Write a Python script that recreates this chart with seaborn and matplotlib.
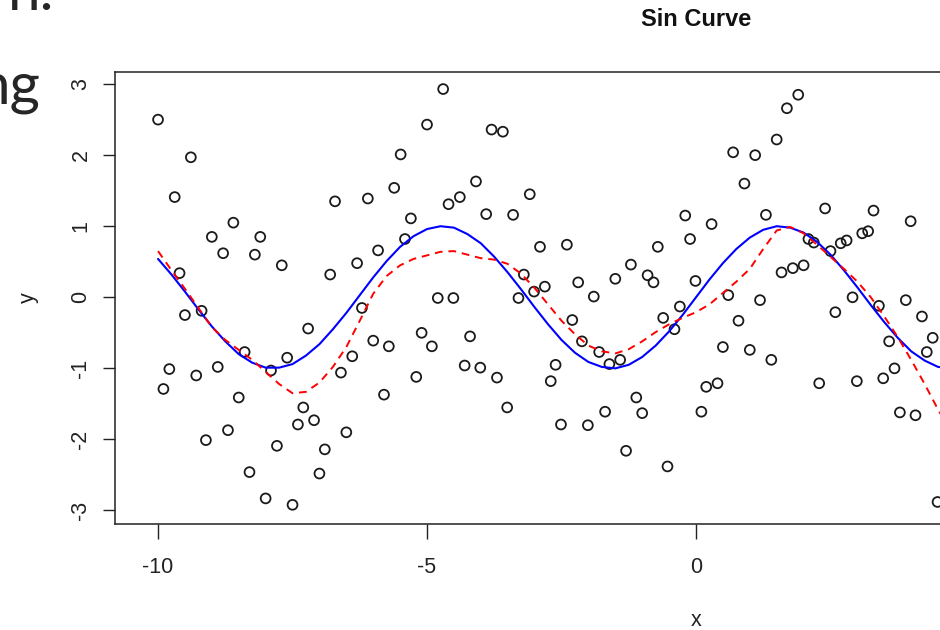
import matplotlib
matplotlib.use("Agg")
import matplotlib.pyplot as plt
import seaborn as sns

sns.set_style("ticks")
plt.rcParams["font.family"] = ["Liberation Sans", "DejaVu Sans"]
plt.rcParams["axes.unicode_minus"] = False

# scatter points (only the visible part, x <= 4.5)
pts_x = [-10.00, -9.90, -9.79, -9.69, -9.60, -9.50, -9.39, -9.29, -9.19, -9.11,
         -9.00, -8.89, -8.79, -8.70, -8.60, -8.50, -8.39, -8.30, -8.20, -8.10,
         -8.00, -7.90, -7.79, -7.70, -7.60, -7.50, -7.40, -7.30, -7.21, -7.10,
         -7.00, -6.90, -6.80, -6.71, -6.60, -6.50, -6.39, -6.30, -6.21, -6.10,
         -6.00, -5.91, -5.80, -5.71, -5.61, -5.49, -5.41, -5.30, -5.20, -5.10,
         -5.00, -4.91, -4.80, -4.70, -4.60, -4.51, -4.39, -4.30, -4.20, -4.09,
         -4.01, -3.90, -3.80, -3.70, -3.59, -3.51, -3.40, -3.30, -3.20, -3.09,
         -3.01, -2.90, -2.81, -2.70, -2.61, -2.51, -2.40, -2.30, -2.19, -2.12,
         -2.01, -1.90, -1.80, -1.69, -1.61, -1.50, -1.41, -1.30, -1.21, -1.11,
         -1.00, -0.90, -0.79, -0.71, -0.61, -0.53, -0.40, -0.30, -0.20, -0.11,
         -0.01, 0.10, 0.19, 0.29, 0.40, 0.50, 0.60, 0.69, 0.79, 0.90,
         1.00, 1.10, 1.19, 1.30, 1.40, 1.50, 1.59, 1.69, 1.80, 1.90,
         2.00, 2.09, 2.19, 2.29, 2.40, 2.50, 2.59, 2.69, 2.80, 2.91,
         2.99, 3.09, 3.20, 3.30, 3.40, 3.48, 3.59, 3.69, 3.79, 3.90,
         3.99, 4.08, 4.20, 4.29, 4.40, 4.49]
pts_y = [2.50, -1.29, -1.01, 1.41, 0.34, -0.25, 1.97, -1.10, -0.19, -2.01,
         0.85, -0.98, 0.62, -1.87, 1.05, -1.41, -0.77, -2.46, 0.60, 0.85,
         -2.83, -1.03, -2.09, 0.45, -0.85, -2.92, -1.79, -1.55, -0.44, -1.73,
         -2.48, -2.14, 0.32, 1.35, -1.06, -1.90, -0.83, 0.48, -0.15, 1.39,
         -0.61, 0.66, -1.37, -0.69, 1.54, 2.01, 0.82, 1.11, -1.12, -0.50,
         2.43, -0.69, -0.01, 2.93, 1.31, -0.01, 1.41, -0.96, -0.55, 1.63,
         -0.99, 1.17, 2.36, -1.13, 2.33, -1.55, 1.16, -0.01, 0.32, 1.45,
         0.08, 0.71, 0.15, -1.18, -0.95, -1.79, 0.74, -0.32, 0.21, -0.62,
         -1.80, 0.01, -0.77, -1.61, -0.94, 0.26, -0.88, -2.16, 0.46, -1.41,
         -1.63, 0.31, 0.21, 0.71, -0.29, -2.38, -0.45, -0.13, 1.15, 0.82,
         0.23, -1.61, -1.26, 1.03, -1.21, -0.70, 0.03, 2.04, -0.33, 1.60,
         -0.74, 2.00, -0.04, 1.16, -0.88, 2.22, 0.35, 2.66, 0.41, 2.85,
         0.45, 0.82, 0.77, -1.21, 1.25, 0.65, -0.21, 0.76, 0.80, 0.00,
         -1.18, 0.90, 0.93, 1.22, -0.12, -1.14, -0.62, -1.00, -1.62, -0.04,
         1.07, -1.66, -0.27, -0.77, -0.57, -2.88]

# the two curves, read at quarter-unit steps
curve_x = [-10.0, -9.75, -9.5, -9.25, -9.0, -8.75, -8.5, -8.25, -8.0, -7.75,
           -7.5, -7.25, -7.0, -6.75, -6.5, -6.25, -6.0, -5.75, -5.5, -5.25,
           -5.0, -4.75, -4.5, -4.25, -4.0, -3.75, -3.5, -3.25, -3.0, -2.75,
           -2.5, -2.25, -2.0, -1.75, -1.5, -1.25, -1.0, -0.75, -0.5, -0.25,
           0.0, 0.25, 0.5, 0.75, 1.0, 1.25, 1.5, 1.75, 2.0, 2.25,
           2.5, 2.75, 3.0, 3.25, 3.5, 3.75, 4.0, 4.25, 4.5, 4.75, 5.0]
sin_y = [0.54, 0.32, 0.08, -0.17, -0.41, -0.62, -0.80, -0.92, -0.99, -0.99,
         -0.94, -0.82, -0.66, -0.45, -0.22, 0.03, 0.28, 0.51, 0.71, 0.86,
         0.96, 1.00, 0.98, 0.89, 0.76, 0.57, 0.35, 0.11, -0.14, -0.38,
         -0.60, -0.78, -0.91, -0.98, -1.00, -0.95, -0.84, -0.68, -0.48, -0.25,
         0.00, 0.25, 0.48, 0.68, 0.84, 0.95, 1.00, 0.98, 0.91, 0.78,
         0.60, 0.38, 0.14, -0.11, -0.35, -0.57, -0.76, -0.89, -0.98, -1.00, -0.96]
smooth_y = [0.65, 0.38, 0.12, -0.15, -0.42, -0.60, -0.74, -0.88, -1.05, -1.22,
            -1.35, -1.33, -1.20, -0.98, -0.70, -0.33, 0.05, 0.30, 0.45, 0.54,
            0.59, 0.64, 0.65, 0.60, 0.55, 0.53, 0.47, 0.33, 0.13, -0.10,
            -0.33, -0.52, -0.68, -0.76, -0.79, -0.73, -0.62, -0.49, -0.38, -0.29,
            -0.21, -0.10, 0.06, 0.22, 0.40, 0.68, 0.94, 0.99, 0.90, 0.74,
            0.57, 0.40, 0.22, 0.00, -0.27, -0.56, -0.88, -1.22, -1.58, -1.90, -2.20]

fig = plt.figure(figsize=(9.4, 6.3), dpi=100)
# the plot box runs past the right edge of the screenshot
ax = fig.add_axes([115 / 940, 106 / 630, 1162 / 940, 452 / 630])

sns.scatterplot(x=pts_x, y=pts_y, ax=ax, marker="o", s=50,
                facecolors="none", edgecolor="#1a1a1a", linewidth=1.3, zorder=2)
sns.lineplot(x=curve_x, y=sin_y, ax=ax, color="#0000ff", linewidth=1.5, zorder=3)
sns.lineplot(x=curve_x, y=smooth_y, ax=ax, color="#ff0000", linewidth=1.4,
             linestyle=(0, (4, 3)), zorder=3)

ax.set_xlim(-10.8, 10.8)
ax.set_ylim(-3.19, 3.17)
ax.set_xticks([-10, -5, 0])
ax.set_yticks([-3, -2, -1, 0, 1, 2, 3])
for s in ax.spines.values():
    s.set_linewidth(1.1)
    s.set_color("#222222")
ax.tick_params(axis="x", direction="out", length=11, width=1, pad=12.5,
               labelsize=15.5, color="#222222", labelcolor="#222222")
ax.tick_params(axis="y", direction="out", length=9, width=1, pad=8,
               labelsize=15.5, labelrotation=90, color="#222222", labelcolor="#222222")
for lab in ax.get_yticklabels():
    lab.set_va("center")

ax.set_xlabel("x", fontsize=15.5, color="#222222")
ax.xaxis.set_label_coords(0.5, -(620 - 524) / 452)
ax.xaxis.label.set_va("center")
ax.set_ylabel("y", fontsize=15.5, color="#222222")
ax.yaxis.set_label_coords((28 - 115) / 1162, 0.5)
ax.yaxis.label.set_va("center")
ax.text(0.5, 1 + 52 / 452, "Sin Curve", transform=ax.transAxes, ha="center",
        va="center", fontweight="bold", fontsize=17, color="#111111")

# pieces of the slide text next to the chart
fig.text(-22 / 940, 1 - 103 / 630, "ng", fontsize=42, family="Lato", va="baseline")
fig.text(8 / 940, 1 - 10 / 630, "n.", fontsize=42, family="Lato", va="baseline")

fig.savefig("out.png", dpi=100)
